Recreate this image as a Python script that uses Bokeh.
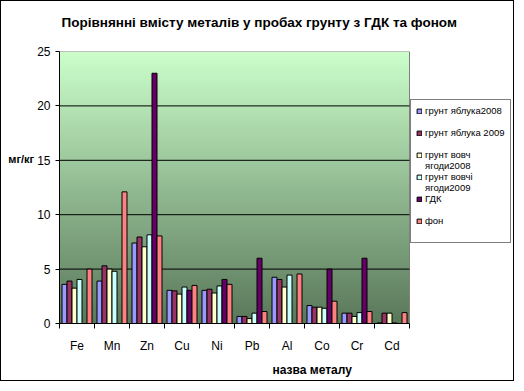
import numpy as np
from bokeh.plotting import figure
from bokeh.models import (Range1d, FixedTicker, Legend, LegendItem, Title,
                          ColumnDataSource)
from bokeh.transform import dodge
from bokeh.embed import file_html
from bokeh.resources import INLINE

# ---- data ----
metals = ["Fe", "Mn", "Zn", "Cu", "Ni", "Pb", "Al", "Co", "Cr", "Cd"]
series_names = ["грунт яблука2008", "грунт яблука 2009", "грунт вовч\nягоди2008",
                "грунт вовчі\nягоди2009", "ГДК", "фон"]
apple2008 = [3.6, 3.9, 7.4, 3.05, 3.05, 0.65, 4.25, 1.65, 0.95, 0.05]
apple2009 = [3.9, 5.3, 7.95, 3.0, 3.15, 0.65, 4.05, 1.5, 0.95, 0.95]
berry2008 = [3.25, 5.0, 7.05, 2.7, 2.8, 0.45, 3.35, 1.5, 0.65, 0.95]
berry2009 = [4.05, 4.8, 8.15, 3.35, 3.45, 0.95, 4.45, 1.4, 1.0, 0.05]
gdk = [np.nan, np.nan, 23.0, 3.05, 4.05, 6.0, np.nan, 5.0, 6.0, np.nan]
background = [5.0, 12.1, 8.05, 3.5, 3.6, 1.1, 4.55, 2.05, 1.1, 1.0]
colors = ["#9999FF", "#993366", "#FFFFCC", "#CCFFFF", "#660066", "#FF8080"]
yticks = [0, 5, 10, 15, 20, 25]
title_text = "Порівнянні вмісту металів у пробах грунту з ГДК та фоном"
y_title = "мг/кг"
x_title = "назва металу"

series = [apple2008, apple2009, berry2008, berry2009, gdk, background]

FONT = "Liberation Sans"
N = len(metals)
YMAX = yticks[-1]

# frame: 35 px per category; extra room on the right holds the legend
p = figure(width=514, height=381, output_backend="svg", toolbar_location=None,
           x_range=Range1d(0, 454 / 35), y_range=Range1d(0, YMAX),
           min_border_left=58, min_border_right=2, min_border_top=50,
           min_border_bottom=59)
p.styles = {"border": "1px solid black"}
p.background_fill_color = "white"
p.border_fill_color = "white"
p.outline_line_color = None

# title (trailing empty line lifts the text a little above the plot)
p.title.text = title_text + "\n"
p.title.align = "left"
p.title.offset = 2
p.title.standoff = 14
p.title.text_font = FONT
p.title.text_font_size = "13.5px"
p.title.text_font_style = "bold"
p.title.text_color = "black"

# gradient plot-area background
n = 256
t = np.linspace(0, 1, n)[:, None]  # 0 bottom -> 1 top
top_c = np.array([204, 255, 204])
bot_c = np.array([90, 120, 90])
rgb = bot_c + (top_c - bot_c) * t
img = np.zeros((n, 1), dtype=np.uint32)
view = img.view(dtype=np.uint8).reshape((n, 1, 4))
view[:, 0, 0] = rgb[:, 0]
view[:, 0, 1] = rgb[:, 1]
view[:, 0, 2] = rgb[:, 2]
view[:, 0, 3] = 255
bg = p.image_rgba(image=[img], x=0, y=0, dw=N, dh=YMAX)
bg.level = "image"

# plot-area border and horizontal gridlines
p.quad(left=0, right=N, bottom=0, top=YMAX, fill_color=None,
       line_color="#808080", line_width=1)
p.xgrid.visible = False
p.ygrid.visible = False
gy = yticks[1:-1]
p.segment(x0=[0] * len(gy), x1=[N] * len(gy), y0=gy, y1=gy,
          line_color="black", line_width=1)

# bars
src = ColumnDataSource(dict(x=np.arange(N) + 0.5,
                            **{f"s{j}": s for j, s in enumerate(series)}))
bw = 1 / 7
renderers = []
for j, c in enumerate(colors):
    r = p.vbar(x=dodge("x", (j - 2.5) * bw), top=f"s{j}", width=bw, bottom=0,
               source=src, fill_color=c, line_color="black", line_width=1)
    renderers.append(r)
ghost = p.vbar(x=[], top=[], width=0.1, fill_alpha=0, line_alpha=0)

# axes
p.yaxis.ticker = FixedTicker(ticks=yticks)
p.yaxis.major_tick_out = 4
p.yaxis.major_tick_in = 0
p.yaxis.minor_tick_out = 0
p.yaxis.minor_tick_in = 0
p.yaxis.major_label_standoff = 5
p.yaxis.major_label_text_font = FONT
p.yaxis.major_label_text_font_size = "12px"
p.yaxis.major_label_text_color = "black"
p.yaxis.axis_line_color = "black"
p.yaxis.axis_label = y_title + "\n\n\n\n"
p.yaxis.axis_label_orientation = "horizontal"
p.yaxis.axis_label_standoff = 0
p.yaxis.axis_label_text_font = FONT
p.yaxis.axis_label_text_font_size = "11px"
p.yaxis.axis_label_text_font_style = "bold"
p.yaxis.axis_label_text_color = "black"

centers = [i + 0.5 for i in range(N)]
p.xaxis.bounds = (0, N)
p.xaxis.ticker = FixedTicker(ticks=centers, minor_ticks=list(range(N + 1)))
p.xaxis.major_label_overrides = {c: m for c, m in zip(centers, metals)}
p.xaxis.major_tick_out = 0
p.xaxis.major_tick_in = 0
p.xaxis.minor_tick_out = 5
p.xaxis.minor_tick_in = 0
p.xaxis.minor_tick_line_color = "black"
p.xaxis.major_label_standoff = 10
p.xaxis.major_label_text_font = FONT
p.xaxis.major_label_text_font_size = "12px"
p.xaxis.major_label_text_color = "black"
p.xaxis.axis_line_color = "black"

p.add_layout(Title(text=x_title, align="left", offset=213, standoff=10,
                   text_font=FONT, text_font_size="12px", text_font_style="bold",
                   text_color="black"), "below")

# legend: 11px slots, multi-line names take a second slot, single-line a blank one
items = []
for name, r in zip(series_names, renderers):
    lines = name.split("\n")
    items.append(LegendItem(label=lines[0], renderers=[r]))
    items.append(LegendItem(label=lines[1] if len(lines) > 1 else " ", renderers=[ghost]))
legend = Legend(items=items, location=(351, 80), orientation="vertical",
                glyph_width=6, glyph_height=6, label_height=11, spacing=0,
                padding=5, margin=0, label_standoff=3,
                label_text_font=FONT, label_text_font_size="9.5px",
                label_text_color="black", border_line_color="black",
                border_line_width=1, background_fill_color="white",
                background_fill_alpha=1)
p.add_layout(legend)

open("out.html", "w").write(file_html(p, INLINE))
